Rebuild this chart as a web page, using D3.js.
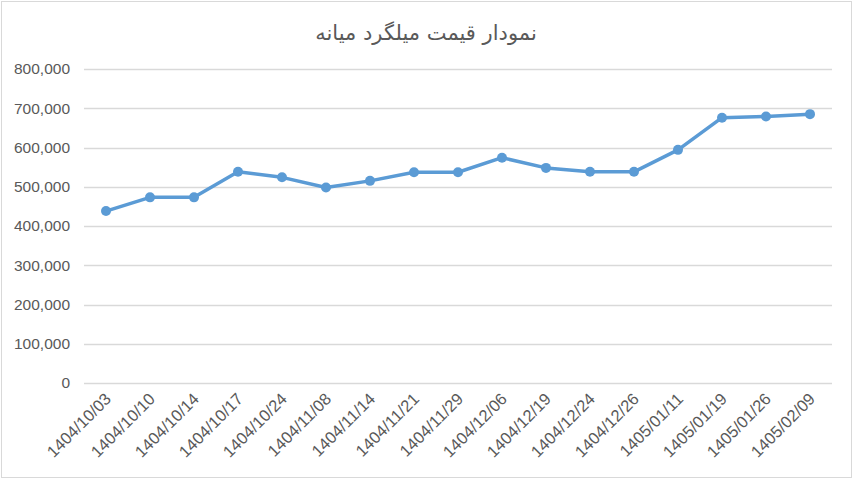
<!DOCTYPE html>
<html>
<head>
<meta charset="utf-8">
<script src="https://cdn.jsdelivr.net/npm/d3@7"></script>
<style>
    body { margin: 0; background: #fff; }
    svg { display: block; }
    .tick text { fill: #595959; font-family: "Liberation Sans", Arial, sans-serif; }
</style>
</head>
<body>
<svg width="853" height="480"></svg>
<script>
const chartTitle = "نمودار قیمت میلگرد میانه";

const dates = [
    "1404/10/03", "1404/10/10", "1404/10/14", "1404/10/17", "1404/10/24",
    "1404/11/08", "1404/11/14", "1404/11/21", "1404/11/29", "1404/12/06",
    "1404/12/19", "1404/12/24", "1404/12/26", "1405/01/11", "1405/01/19",
    "1405/01/26", "1405/02/09"
];

const prices = [
    438000, 473000, 473000, 538000, 524000,
    498000, 515000, 537000, 537000, 574000,
    548000, 538000, 538000, 594000, 676000,
    679000, 685000
];

const yTicks = [0, 100000, 200000, 300000, 400000, 500000, 600000, 700000, 800000];

let svg = d3.select("svg");

// chart border
svg.append("rect")
    .attr("x", 1.5).attr("y", 1.5)
    .attr("width", 850).attr("height", 476)
    .attr("fill", "#fff")
    .attr("stroke", "#d9d9d9");

let margin = { left: 84, right: 21, top: 69, bottom: 97 };
let width = 853 - margin.left - margin.right;
let height = 480 - margin.top - margin.bottom;

let g = svg.append("g")
    .attr("transform", `translate(${margin.left},${margin.top})`);

let x = d3.scaleBand()
    .domain(dates)
    .range([0, width]);

let y = d3.scaleLinear()
    .domain([0, 800000])
    .range([height, 0]);

// gridlines
g.append("g")
    .selectAll("line")
    .data(yTicks)
    .enter()
    .append("line")
    .attr("x1", 0)
    .attr("x2", width)
    .attr("y1", d => Math.round(y(d)) + 0.5)
    .attr("y2", d => Math.round(y(d)) + 0.5)
    .attr("stroke", "#d9d9d9")
    .attr("stroke-width", 1.3);

// y axis labels
let yAxis = g.append("g")
    .call(d3.axisLeft(y).tickValues(yTicks).tickFormat(d3.format(",")).tickSize(0).tickPadding(14));
yAxis.select(".domain").remove();
yAxis.selectAll("text").attr("font-size", 15.5);

// x axis labels
let xAxis = g.append("g")
    .attr("transform", `translate(0,${height})`)
    .call(d3.axisBottom(x).tickSize(0));
xAxis.select(".domain").remove();
xAxis.selectAll("text")
    .attr("font-size", 16.5)
    .attr("text-anchor", "end")
    .attr("dy", 0)
    .attr("transform", "translate(4,15) rotate(-45)");

// line + markers
let line = d3.line()
    .x((d, i) => x(dates[i]) + x.bandwidth() / 2)
    .y(d => y(d));

g.append("path")
    .datum(prices)
    .attr("d", line)
    .attr("fill", "none")
    .attr("stroke", "#5b9bd5")
    .attr("stroke-width", 3.5)
    .attr("stroke-linejoin", "round");

g.selectAll("circle")
    .data(prices)
    .enter()
    .append("circle")
    .attr("cx", (d, i) => x(dates[i]) + x.bandwidth() / 2)
    .attr("cy", d => y(d))
    .attr("r", 5)
    .attr("fill", "#5b9bd5");

// title
svg.append("text")
    .attr("x", 426)
    .attr("y", 40)
    .attr("text-anchor", "middle")
    .attr("fill", "#595959")
    .attr("font-family", "'DejaVu Sans', sans-serif")
    .attr("font-size", 21)
    .text(chartTitle);
</script>
</body>
</html>
